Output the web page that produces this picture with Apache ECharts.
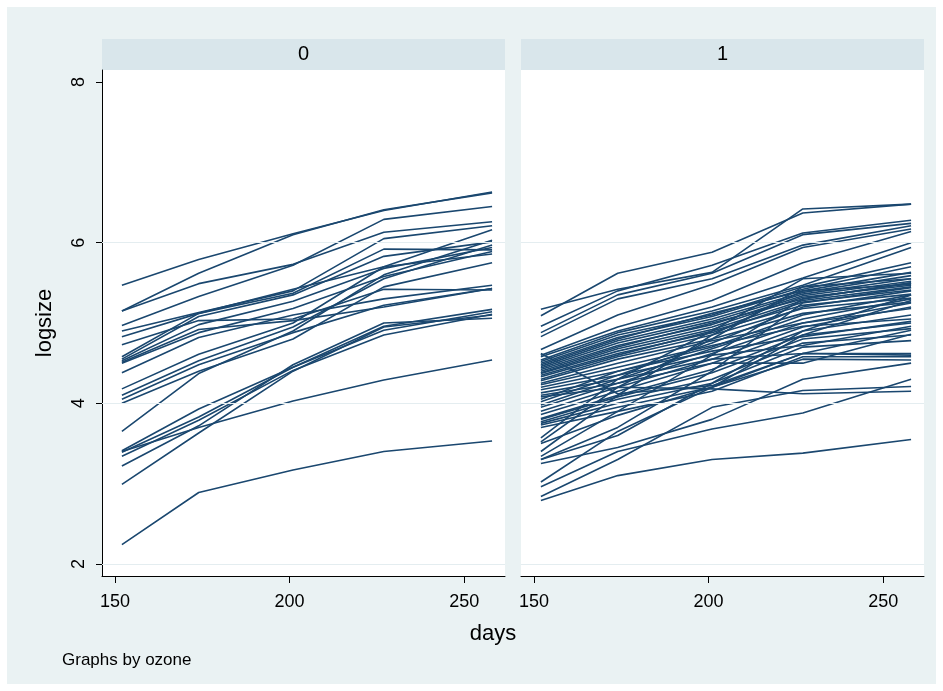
<!DOCTYPE html>
<html>
<head>
<meta charset="utf-8">
<script src="https://cdn.jsdelivr.net/npm/echarts@6/dist/echarts.min.js"></script>
<style>
  html, body { margin: 0; padding: 0; background: #ffffff; }
  #chart { width: 943px; height: 691px; background: #eaf2f3; box-shadow: inset 0 0 0 7px #ffffff; }
</style>
</head>
<body>
<div id="chart"></div>
<script>
// Measurement days and panel labels (by ozone)
const days = [152, 174, 201, 227, 258];
const panelLabels = ['0', '1'];
const xTicks = [150, 200, 250];
const yTicks = [2, 4, 6, 8];
const yGrid = [2, 4, 6];

// log size of each tree at the five measurement days, ozone = 0
const control = [
  [5.47, 5.79, 6.11, 6.40, 6.63],
  [5.15, 5.62, 6.10, 6.41, 6.62],
  [5.15, 5.49, 5.73, 6.13, 6.26],
  [4.97, 5.33, 5.72, 6.29, 6.45],
  [4.90, 5.13, 5.40, 6.05, 6.21],
  [4.83, 5.12, 5.42, 5.70, 6.16],
  [4.73, 5.03, 5.05, 5.42, 5.41],
  [4.58, 5.12, 5.37, 5.92, 5.91],
  [4.55, 5.08, 5.35, 5.83, 6.01],
  [4.53, 4.98, 5.27, 5.68, 5.94],
  [4.51, 4.92, 5.03, 5.20, 5.43],
  [4.50, 4.88, 5.18, 5.58, 5.89],
  [4.38, 4.82, 5.10, 5.30, 5.47],
  [4.18, 4.61, 5.00, 5.70, 5.86],
  [4.10, 4.53, 4.95, 5.55, 5.97],
  [4.05, 4.48, 4.88, 5.22, 5.43],
  [4.00, 4.40, 4.80, 5.45, 5.75],
  [3.65, 4.37, 4.90, 5.60, 6.03],
  [3.41, 3.93, 4.45, 4.96, 5.17],
  [3.39, 3.83, 4.45, 4.91, 5.14],
  [3.34, 3.79, 4.41, 4.85, 5.11],
  [3.22, 3.72, 4.48, 5.00, 5.06],
  [3.40, 3.70, 4.03, 4.29, 4.54],
  [2.99, 3.63, 4.40, 4.95, 5.10],
  [2.24, 2.89, 3.17, 3.40, 3.53]
];

// log size of each tree at the five measurement days, ozone = 1
const ozone = [
  [5.17, 5.42, 5.63, 6.42, 6.48],
  [5.09, 5.62, 5.88, 6.37, 6.48],
  [4.96, 5.40, 5.72, 6.12, 6.28],
  [4.88, 5.35, 5.62, 6.10, 6.24],
  [4.83, 5.30, 5.55, 5.97, 6.21],
  [4.67, 5.10, 5.48, 5.94, 6.17],
  [4.62, 4.12, 4.22, 4.62, 4.60],
  [4.60, 4.95, 5.28, 5.75, 6.14],
  [4.58, 4.90, 5.20, 5.56, 6.00],
  [4.54, 4.88, 5.15, 5.47, 5.94],
  [4.52, 4.85, 5.10, 5.45, 5.75],
  [4.50, 4.82, 5.08, 5.42, 5.70],
  [4.48, 4.80, 5.12, 5.40, 5.63],
  [4.46, 4.78, 5.05, 5.38, 5.59],
  [4.44, 4.75, 5.02, 5.36, 5.55],
  [4.42, 4.72, 4.98, 5.34, 5.52],
  [4.40, 4.70, 5.00, 5.30, 5.50],
  [4.38, 4.68, 4.95, 5.32, 5.47],
  [4.37, 4.65, 4.92, 5.28, 5.45],
  [4.35, 4.62, 4.88, 5.26, 5.41],
  [4.33, 4.60, 4.90, 5.22, 5.36],
  [4.30, 4.58, 4.85, 5.18, 5.31],
  [4.28, 4.55, 4.80, 5.12, 5.26],
  [4.25, 4.50, 4.78, 5.00, 5.18],
  [4.23, 4.45, 4.72, 4.96, 5.05],
  [4.20, 4.40, 4.65, 4.83, 5.02],
  [4.17, 4.35, 4.60, 4.72, 4.96],
  [4.13, 4.30, 4.55, 4.62, 4.91],
  [4.10, 4.25, 4.50, 4.50, 4.86],
  [4.08, 4.20, 4.18, 4.12, 4.15],
  [4.05, 4.40, 4.70, 5.10, 5.35],
  [4.02, 4.35, 4.75, 5.20, 5.40],
  [3.98, 4.30, 4.68, 5.05, 5.30],
  [3.95, 4.25, 4.62, 5.00, 5.25],
  [3.90, 4.20, 4.55, 4.95, 5.20],
  [3.86, 4.15, 4.50, 4.90, 5.10],
  [3.81, 4.10, 4.42, 4.85, 5.00],
  [3.80, 4.08, 4.38, 4.80, 4.93],
  [3.77, 4.05, 4.30, 4.75, 4.85],
  [3.75, 4.00, 4.25, 4.70, 4.78],
  [3.73, 3.95, 4.20, 4.62, 4.62],
  [3.70, 3.90, 4.15, 4.58, 4.58],
  [3.57, 4.30, 4.90, 5.55, 5.62],
  [3.52, 4.20, 4.80, 5.45, 5.55],
  [3.50, 3.85, 4.20, 4.55, 4.54],
  [3.40, 4.10, 4.85, 5.40, 5.48],
  [3.34, 3.90, 4.60, 5.30, 5.50],
  [3.30, 3.70, 4.40, 5.25, 5.44],
  [3.30, 3.60, 4.25, 4.90, 5.35],
  [3.25, 3.45, 3.80, 4.30, 4.50],
  [3.02, 3.65, 4.20, 4.85, 5.28],
  [2.96, 3.40, 3.68, 3.88, 4.30],
  [2.84, 3.30, 3.95, 4.16, 4.21],
  [2.79, 3.10, 3.30, 3.38, 3.55]
];

const groups = [control, ozone];
const LINE = '#1a476f';
const GRID_LINE = '#e4edf0';
const FONT = 'Liberation Sans, Arial, Helvetica, sans-serif';

const panels = [
  { left: 102, width: 403 },
  { left: 521, width: 403 }
];
const plotTop = 70, plotHeight = 506;

const grids = panels.map(p => ({
  left: p.left, top: plotTop, width: p.width, height: plotHeight,
  show: true, backgroundColor: '#ffffff', borderWidth: 0
}));

const xAxes = panels.map((p, i) => ({
  type: 'value', gridIndex: i, min: 146.3, max: 261.7,
  axisLine: { show: true, lineStyle: { color: '#000', width: 1 } },
  axisTick: { show: true, length: 7, customValues: xTicks, lineStyle: { color: '#000' } },
  axisLabel: { show: true, customValues: xTicks, fontFamily: FONT, fontSize: 18, color: '#000', margin: 17 },
  splitLine: { show: false }
}));

const yAxes = panels.map((p, i) => ({
  type: 'value', gridIndex: i, min: 1.85, max: 8.15,
  axisLine: { show: i === 0, lineStyle: { color: '#000', width: 1 } },
  axisTick: { show: i === 0, length: 6, customValues: yTicks, lineStyle: { color: '#000' } },
  axisLabel: { show: i === 0, customValues: yTicks, rotate: 90, fontFamily: FONT, fontSize: 18, color: '#000', margin: 14 },
  splitLine: { show: false },
  name: i === 0 ? 'logsize' : '',
  nameLocation: 'middle', nameGap: 46, nameRotate: 90,
  nameTextStyle: { fontFamily: FONT, fontSize: 22, color: '#000' }
}));

const series = [];
// light horizontal grid lines behind the tree profiles
panels.forEach((p, g) => {
  series.push({
    type: 'line', xAxisIndex: g, yAxisIndex: g, data: [], z: 1, silent: true,
    markLine: {
      silent: true, symbol: 'none', label: { show: false },
      lineStyle: { color: GRID_LINE, width: 1, type: 'solid' },
      data: yGrid.map(v => ({ yAxis: v }))
    }
  });
});
groups.forEach((trees, g) => {
  trees.forEach((vals, k) => {
    series.push({
      type: 'line', xAxisIndex: g, yAxisIndex: g, z: 3,
      name: panelLabels[g] + '-' + k,
      data: vals.map((v, j) => [days[j], v]),
      symbol: 'none', silent: true,
      lineStyle: { color: LINE, width: 1.6 }
    });
  });
});

const graphic = [];
panels.forEach((p, i) => {
  graphic.push({
    type: 'rect', shape: { x: p.left, y: 39, width: p.width, height: 31 },
    style: { fill: '#d9e6eb' }, silent: true
  });
  graphic.push({
    type: 'text', x: p.left + p.width / 2, y: 54,
    style: { text: panelLabels[i], font: '20px ' + FONT, fill: '#000', textAlign: 'center', textVerticalAlign: 'middle' },
    silent: true
  });
});
graphic.push({
  type: 'text', x: 493, y: 634,
  style: { text: 'days', font: '22px ' + FONT, fill: '#000', textAlign: 'center', textVerticalAlign: 'middle' },
  silent: true
});
graphic.push({
  type: 'text', x: 62, y: 660,
  style: { text: 'Graphs by ozone', font: '17px ' + FONT, fill: '#000', textAlign: 'left', textVerticalAlign: 'middle' },
  silent: true
});

const chart = echarts.init(document.getElementById('chart'), null, { renderer: 'canvas' });
chart.setOption({
  animation: false,
  grid: grids,
  xAxis: xAxes,
  yAxis: yAxes,
  series: series,
  graphic: graphic
});
</script>
</body>
</html>
